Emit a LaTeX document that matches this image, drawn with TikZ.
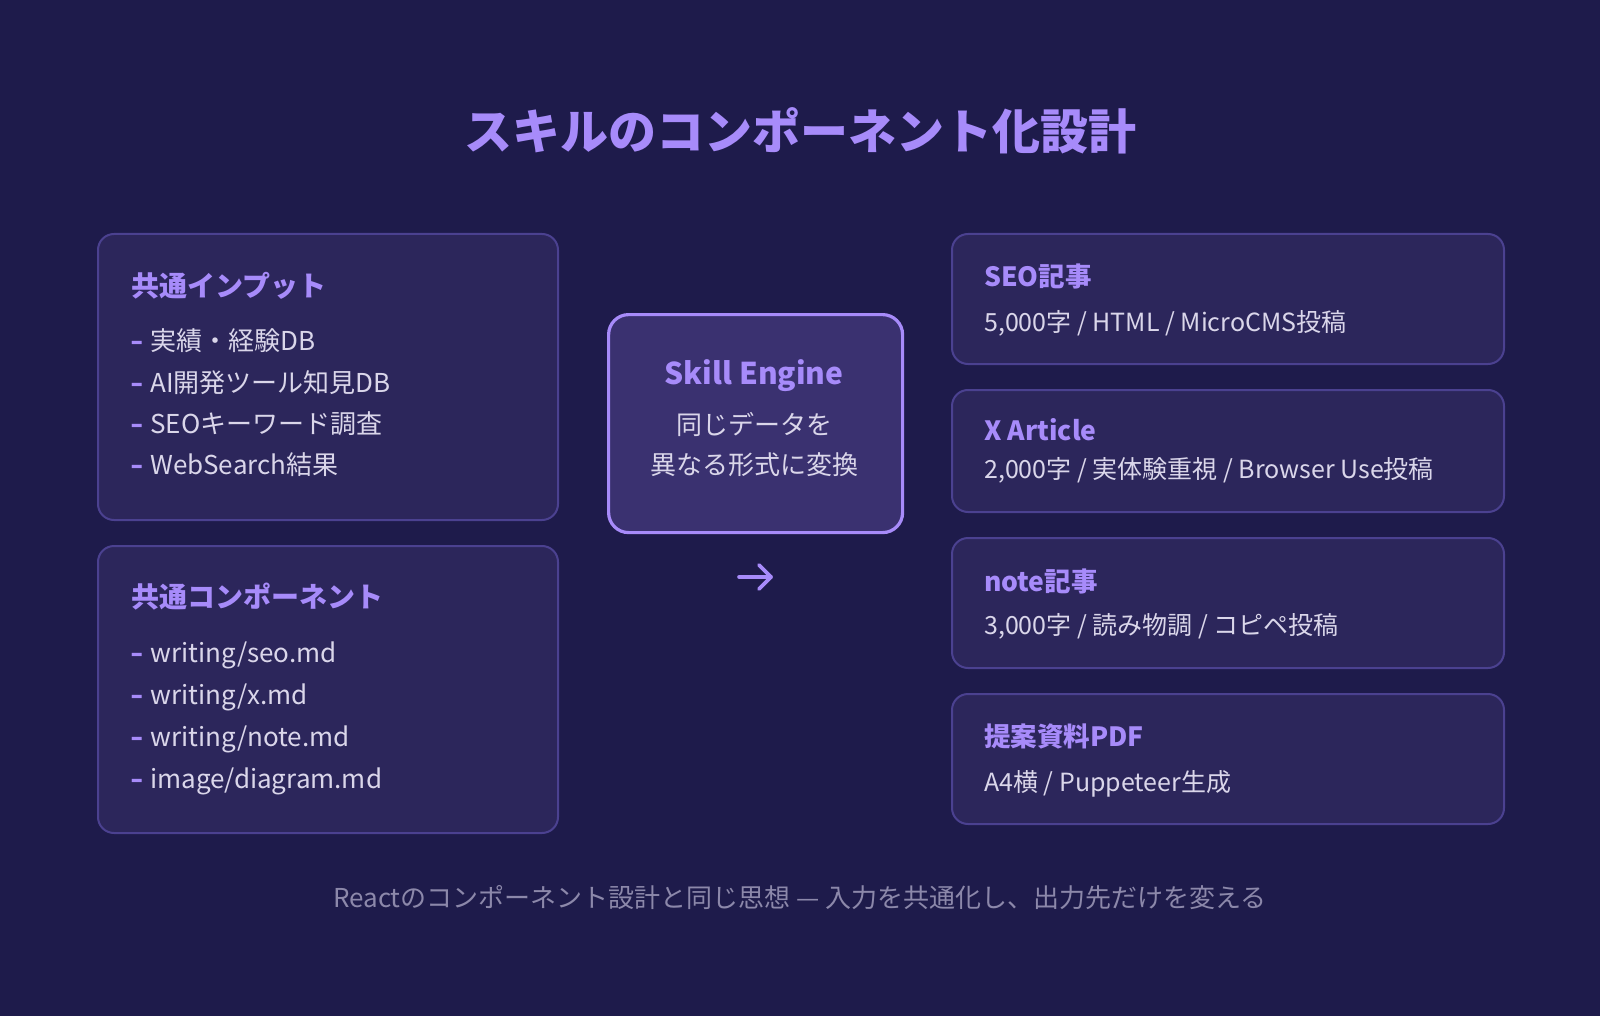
\documentclass[tikz,border=0pt]{standalone}
\usepackage{fontspec}
\setmainfont{Noto Sans CJK JP}
\definecolor{bg}{HTML}{1E1B4B}
\definecolor{cardfill}{HTML}{2C265B}
\definecolor{cardline}{HTML}{4B4190}
\definecolor{enginefill}{HTML}{3A3170}
\definecolor{accent}{HTML}{A78BFA}
\definecolor{bodytext}{HTML}{DAD6EA}
\definecolor{foottext}{HTML}{8C88AA}
\begin{document}
\begin{tikzpicture}[x=1pt,y=-1pt,
  card/.style={draw=cardline, fill=cardfill, line width=2pt, rounded corners=16pt, inner sep=0, anchor=north west},
  engine/.style={draw=accent, fill=enginefill, line width=3.2pt, rounded corners=20pt, inner sep=0, anchor=north west},
  txt/.style={inner sep=0},
  ttl/.style={txt, anchor=base west, text=accent, font=\fontsize{28}{33}\selectfont\bfseries},
  rttl/.style={txt, anchor=base west, text=accent, font=\fontsize{26.5}{31}\selectfont\bfseries},
  itm/.style={txt, anchor=base west, text=bodytext, font=\fontsize{26}{31}\selectfont},
  sub/.style={txt, anchor=base west, text=bodytext, font=\fontsize{25}{30}\selectfont},
  dsh/.style={txt, anchor=base west, text=accent, font=\fontsize{26}{31}\selectfont\bfseries},
]
\fill[bg] (0,0) rectangle (1600,1016);
\useasboundingbox (0,0) rectangle (1600,1016);

% title
\node[txt, anchor=base, text=accent, font=\fontsize{48}{57}\selectfont\bfseries] (title) at (800,150) {スキルのコンポーネント化設計};

% left cards
\node[card, minimum width=460pt, minimum height=286pt] (inp) at (97,233) {};
\node[card, minimum width=460pt, minimum height=287pt] (comp) at (97,545) {};

\node[ttl] (inpT) at (131,296) {共通インプット};
\node[dsh] (d1) at (130,350.4) {\scalebox{1.35}[1]{-}};
\node[itm] (i1) at (150,350.4) {実績・経験DB};
\node[dsh] (d2) at (130,392.4) {\scalebox{1.35}[1]{-}};
\node[itm] (i2) at (150,392.4) {AI開発ツール知見DB};
\node[dsh] (d3) at (130,433.4) {\scalebox{1.35}[1]{-}};
\node[itm] (i3) at (150,433.4) {SEOキーワード調査};
\node[dsh] (d4) at (130,474.4) {\scalebox{1.35}[1]{-}};
\node[itm] (i4) at (150,474.4) {WebSearch結果};

\node[ttl] (compT) at (131,607) {共通コンポーネント};
\node[dsh] (e1) at (130,662.4) {\scalebox{1.35}[1]{-}};
\node[itm] (c1) at (150,662.4) {writing/seo.md};
\node[dsh] (e2) at (130,704.4) {\scalebox{1.35}[1]{-}};
\node[itm] (c2) at (150,704.4) {writing/x.md};
\node[dsh] (e3) at (130,746.4) {\scalebox{1.35}[1]{-}};
\node[itm] (c3) at (150,746.4) {writing/note.md};
\node[dsh] (e4) at (130,788.4) {\scalebox{1.35}[1]{-}};
\node[itm] (c4) at (150,788.4) {image/diagram.md};

% engine
\node[engine, minimum width=294pt, minimum height=218pt] (eng) at (607,313) {};
\node[txt, anchor=base, text=accent, font=\fontsize{30}{35}\selectfont\bfseries] (engT) at (754,384.8) {Skill Engine};
\node[txt, anchor=base, text=bodytext, font=\fontsize{26}{31}\selectfont] (engA) at (754,434.4) {同じデータを};
\node[txt, anchor=base, text=bodytext, font=\fontsize{26}{31}\selectfont] (engB) at (754,474.4) {異なる形式に変換};

% arrow glyph
\coordinate (arS) at (739,577);
\coordinate (arE) at (771,577);
\coordinate (arU) at (759,565);
\coordinate (arD) at (759,589);
\draw[accent, line width=3.6pt, line cap=round, line join=round] (arS) -- (arE);
\draw[accent, line width=3.6pt, line cap=round, line join=round] (arU) -- (arE) -- (arD);

% right cards
\node[card, minimum width=552pt, minimum height=130pt] (o1) at (951,233) {};
\node[card, minimum width=552pt, minimum height=122pt] (o2) at (951,389) {};
\node[card, minimum width=552pt, minimum height=130pt] (o3) at (951,537) {};
\node[card, minimum width=552pt, minimum height=130pt] (o4) at (951,693) {};

\node[rttl] (o1T) at (984,286.5) {SEO記事};
\node[sub] (o1B) at (984,331) {5,000字 / HTML / MicroCMS投稿};
\node[rttl] (o2T) at (984,440.5) {X Article};
\node[sub] (o2B) at (984,478) {2,000字 / 実体験重視 / Browser Use投稿};
\node[rttl] (o3T) at (984,591.5) {note記事};
\node[sub] (o3B) at (984,634) {3,000字 / 読み物調 / コピペ投稿};
\node[rttl] (o4T) at (984,746.5) {提案資料PDF};
\node[sub] (o4B) at (984,791) {A4横 / Puppeteer生成};

% footer
\node[txt, anchor=base, text=foottext, font=\fontsize{26}{31}\selectfont] (foot) at (800,907.4) {Reactのコンポーネント設計と同じ思想 — 入力を共通化し、出力先だけを変える};
\end{tikzpicture}
\end{document}
